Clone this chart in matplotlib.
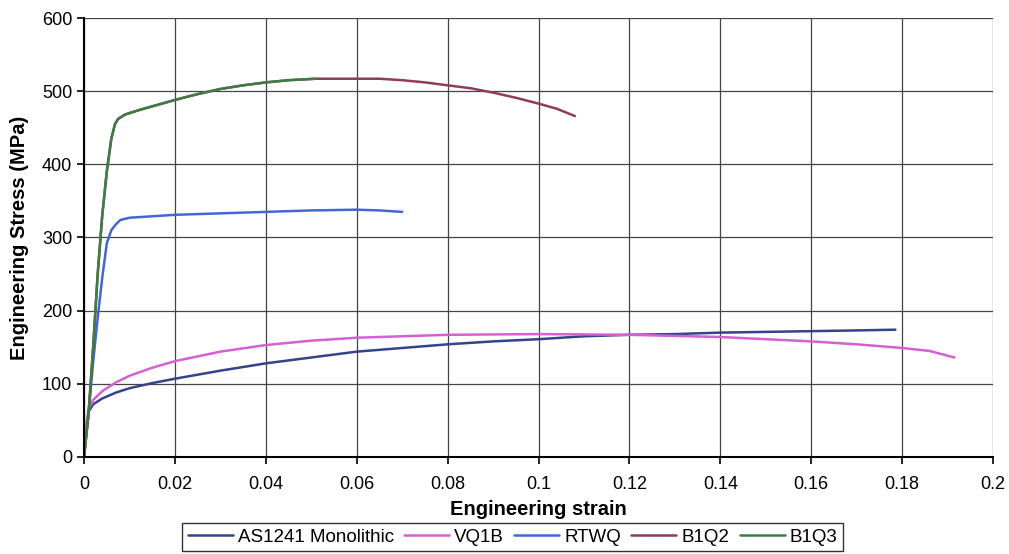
import matplotlib
matplotlib.use("Agg")
import matplotlib.pyplot as plt

plt.rcParams['font.family'] = ['Liberation Sans', 'DejaVu Sans']

# Stress-strain curves (strain, stress in MPa)
as1241_strain = [0, 0.0005, 0.001, 0.002, 0.004, 0.007, 0.01, 0.015, 0.02, 0.03, 0.04, 0.05,
                 0.06, 0.07, 0.08, 0.09, 0.1, 0.11, 0.12, 0.13, 0.14, 0.15, 0.16, 0.17, 0.1785]
as1241_stress = [0, 40, 62, 72, 80, 88, 94, 101, 107, 118, 128, 136,
                 144, 149, 154, 158, 161, 165, 167, 168, 170, 171, 172, 173, 174]

vq1b_strain = [0, 0.0005, 0.001, 0.002, 0.004, 0.007, 0.01, 0.015, 0.02, 0.03, 0.04, 0.05,
               0.06, 0.08, 0.1, 0.12, 0.14, 0.16, 0.17, 0.18, 0.186, 0.1915]
vq1b_stress = [0, 45, 65, 78, 90, 102, 111, 122, 131, 144, 153, 159,
               163, 167, 168, 167, 164, 158, 154, 149, 145, 136]

rtwq_strain = [0, 0.001, 0.002, 0.003, 0.004, 0.005, 0.006, 0.007, 0.008, 0.01, 0.015, 0.02,
               0.03, 0.04, 0.05, 0.06, 0.065, 0.07]
rtwq_stress = [0, 60, 130, 190, 245, 292, 310, 318, 324, 327, 329, 331,
               333, 335, 337, 338, 337, 335]

b1q2_strain = [0, 0.001, 0.002, 0.003, 0.004, 0.005, 0.006, 0.0068, 0.0075, 0.009, 0.012, 0.016,
               0.02, 0.025, 0.03, 0.035, 0.04, 0.045, 0.051, 0.055, 0.06, 0.065, 0.07, 0.075,
               0.08, 0.085, 0.09, 0.095, 0.1, 0.104, 0.108]
b1q2_stress = [0, 60, 150, 250, 330, 390, 435, 455, 462, 468, 474, 481,
               488, 496, 503, 508, 512, 515, 517, 517, 517, 517, 515, 512,
               508, 504, 498, 491, 483, 476, 466]

b1q3_strain = [0, 0.001, 0.002, 0.003, 0.004, 0.005, 0.006, 0.0068, 0.0075, 0.009, 0.012, 0.016,
               0.02, 0.025, 0.03, 0.035, 0.04, 0.045, 0.051]
b1q3_stress = [0, 60, 150, 250, 330, 390, 435, 455, 462, 468, 474, 481,
               488, 496, 503, 508, 512, 515, 517]

series = [
    ("AS1241 Monolithic", as1241_strain, as1241_stress, "#34438a"),
    ("VQ1B", vq1b_strain, vq1b_stress, "#d65fd2"),
    ("RTWQ", rtwq_strain, rtwq_stress, "#4266d6"),
    ("B1Q2", b1q2_strain, b1q2_stress, "#8e3b5e"),
    ("B1Q3", b1q3_strain, b1q3_stress, "#3d7d44"),
]

x_ticks = [0, 0.02, 0.04, 0.06, 0.08, 0.1, 0.12, 0.14, 0.16, 0.18, 0.2]
x_tick_labels = ["0", "0.02", "0.04", "0.06", "0.08", "0.1", "0.12", "0.14", "0.16", "0.18", "0.2"]
y_ticks = [0, 100, 200, 300, 400, 500, 600]

fig = plt.figure(figsize=(10.09, 5.54), dpi=100)
ax = fig.add_axes([0.0833, 0.1751, 0.9009, 0.7924])

for name, xs, ys, col in series:
    ax.plot(xs, ys, color=col, lw=1.8, label=name, solid_capstyle='round')

ax.set_xlim(0, 0.2)
ax.set_ylim(0, 600)
ax.set_xticks(x_ticks)
ax.set_xticklabels(x_tick_labels)
ax.set_yticks(y_ticks)
ax.grid(True, color="#444444", lw=0.9)
ax.set_axisbelow(True)
for s in ["top", "right"]:
    ax.spines[s].set_visible(False)
for s in ["left", "bottom"]:
    ax.spines[s].set_color("black")
    ax.spines[s].set_linewidth(1.5)
ax.tick_params(axis="both", direction="out", length=5, width=1.2, labelsize=13, colors="black")
ax.tick_params(axis="x", pad=9)

ax.set_xlabel("Engineering strain", fontsize=14.5, fontweight="bold", labelpad=5)
ax.set_ylabel("Engineering Stress (MPa)", fontsize=14.5, fontweight="bold", labelpad=9)

leg = fig.legend(loc="upper center", ncol=5,
                 fontsize=13.5, frameon=True, fancybox=False, edgecolor="black",
                 handlelength=2.4, handletextpad=0.27, columnspacing=0.55, borderpad=0.3,
                 borderaxespad=0.0)
leg.set_bbox_to_anchor((0.508, 1 - 523 / 554), transform=fig.transFigure)
leg.get_frame().set_linewidth(1.0)

fig.savefig("out.png", dpi=100)
